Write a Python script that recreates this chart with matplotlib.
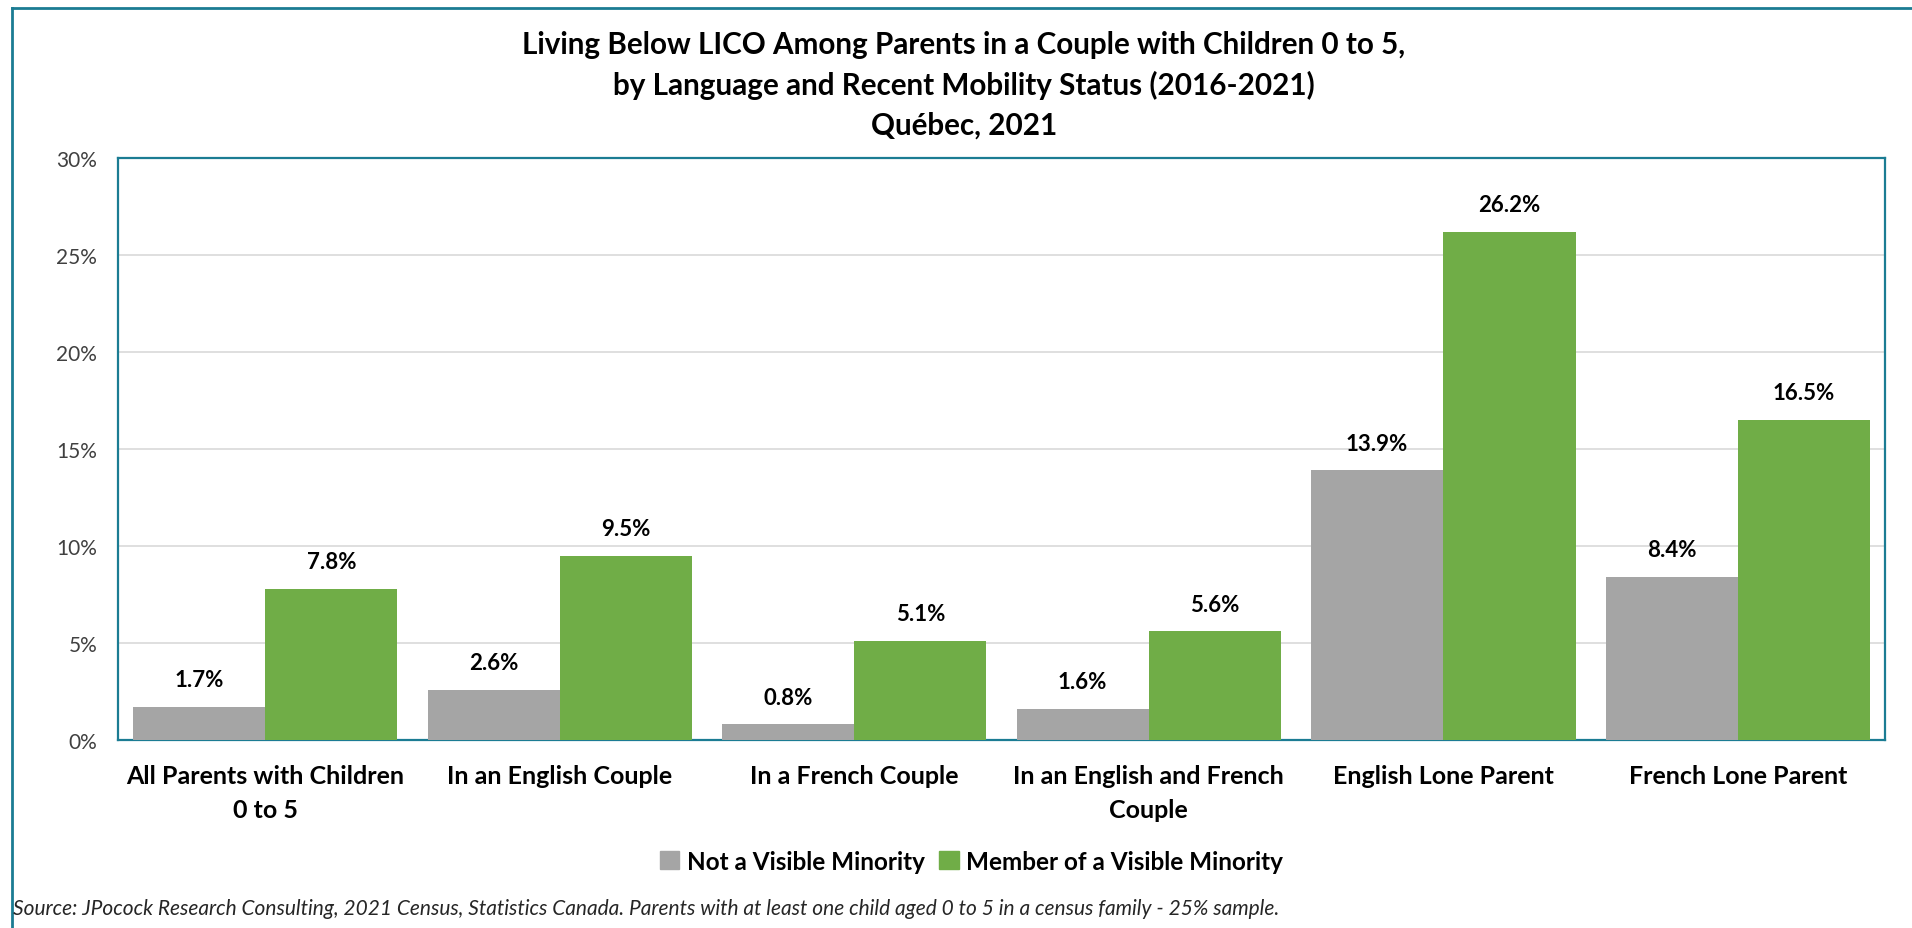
import matplotlib.pyplot as plt
from matplotlib.lines import Line2D
from matplotlib.patches import Patch
import numpy as np

categories = ["All Parents with Children\n0 to 5", "In an English Couple", "In a French Couple",
              "In an English and French\nCouple", "English Lone Parent", "French Lone Parent"]
not_vis_min = [1.7, 2.6, 0.8, 1.6, 13.9, 8.4]
vis_min = [7.8, 9.5, 5.1, 5.6, 26.2, 16.5]
series_names = ["Not a Visible Minority", "Member of a Visible Minority"]

gray = '#A5A5A5'
green = '#70AD47'
teal = '#1B7C93'

plt.rcParams['font.family'] = ['Lato', 'DejaVu Sans']

fig = plt.figure(figsize=(19.12, 9.29), dpi=100)
ax = fig.add_axes([0.0617, 0.2024, 0.9242, 0.6265])

x = np.arange(len(categories))
w = 0.449
ax.bar(x - w/2, not_vis_min, w, color=gray, zorder=3)
ax.bar(x + w/2, vis_min, w, color=green, zorder=3)

for xi, v in zip(x - w/2, not_vis_min):
	ax.annotate("%.1f%%" % v, (xi, v), xytext=(0, 12), textcoords='offset points',
	            ha='center', va='bottom', fontsize=16, fontweight='bold')
for xi, v in zip(x + w/2, vis_min):
	ax.annotate("%.1f%%" % v, (xi, v), xytext=(0, 12), textcoords='offset points',
	            ha='center', va='bottom', fontsize=16, fontweight='bold')

ax.set_xlim(-0.5, len(categories) - 0.5)
ax.set_ylim(0, 30)
ax.set_yticks(np.arange(0, 31, 5))
ax.set_yticklabels(["%d%%" % t for t in range(0, 31, 5)], fontsize=15, color='#404040')
ax.set_xticks(x)
ax.set_xticklabels(categories, fontsize=18, fontweight='bold', linespacing=1.6)
ax.tick_params(axis='both', length=0)
ax.tick_params(axis='x', pad=17)
ax.tick_params(axis='y', pad=15)
ax.grid(axis='y', color='#D9D9D9', linewidth=1.2, zorder=0)
for s in ax.spines.values():
	s.set_color(teal)
	s.set_linewidth(1.6)

fig.text(0.504, 0.908, "Living Below LICO Among Parents in a Couple with Children 0 to 5,\n"
         "by Language and Recent Mobility Status (2016-2021)\nQuébec, 2021",
         ha='center', va='center', fontsize=21.3, fontweight='bold', linespacing=1.5)

handles = [Patch(color=gray), Patch(color=green)]
fig.legend(handles, series_names, loc='center', bbox_to_anchor=(0.508, 0.072), ncol=2,
           frameon=False, prop={'weight': 'bold', 'size': 17.5},
           handlelength=0.8, handleheight=0.8, handletextpad=0.3, columnspacing=0.6)

fig.text(0.007, 0.021, "Source: JPocock Research Consulting, 2021 Census, Statistics Canada. "
         "Parents with at least one child aged 0 to 5 in a census family - 25% sample.",
         ha='left', va='center', fontsize=15, style='italic', color='#262626')

# outer chart frame (top and left edges visible)
fig.add_artist(Line2D([0.0062, 0.0062], [0.0, 0.99], color=teal, lw=2, transform=fig.transFigure))
fig.add_artist(Line2D([0.0062, 1.0], [0.99, 0.99], color=teal, lw=2, transform=fig.transFigure))

fig.savefig("out.png", dpi=100)
